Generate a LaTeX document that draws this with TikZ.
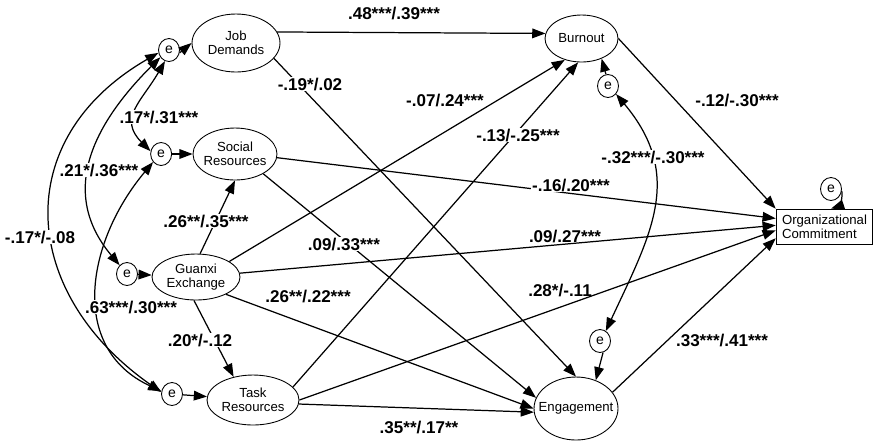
\documentclass[tikz,border=0pt]{standalone}
\usepackage{fontspec}
\setmainfont{Liberation Sans}
\usetikzlibrary{
	shapes.geometric,
	arrows.meta,
	positioning
}

\begin{document}
\begin{tikzpicture}[
				x=0.02cm, y=0.02cm,
				latent/.style={
					ellipse, draw, line width=0.5pt,
					inner xsep=-8pt, inner ysep=-3pt,
					align=center, font=\fontsize{7.5}{8.2}\selectfont
				},
				errnode/.style={
					ellipse, draw, line width=0.5pt, inner sep=0pt,
					minimum width=0.42cm, minimum height=0.46cm,
					font=\fontsize{8}{8}\selectfont
				},
				outcome/.style={
					rectangle, draw, line width=0.5pt,
					minimum width=1.92cm, minimum height=0.68cm,
					align=left, font=\fontsize{7.5}{8.2}\selectfont
				},
				coef/.style={
					font=\fontsize{9.7}{11}\selectfont\bfseries, inner sep=0.5pt
				},
				coefon/.style={
					coef, fill=white
				},
				arrow/.style={-{Triangle[length=7.5pt,width=5.5pt]}, line width=0.7pt},
				covarrow/.style={{Triangle[length=7.5pt,width=5.5pt]}-{Triangle[length=7.5pt,width=5.5pt]}, line width=0.7pt}
				]
				\useasboundingbox (0,0) rectangle (874,-441);
				
				% latent variables
				\node[latent, minimum width=1.76cm, minimum height=1.16cm] (jd) at (236,-43) {Job\\Demands};
				\node[latent, minimum width=1.68cm, minimum height=1.04cm] (soc) at (235,-154) {Social\\Resources};
				\node[latent, minimum width=1.76cm, minimum height=0.92cm] (gx) at (196,-277) {Guanxi\\Exchange};
				\node[latent, minimum width=1.84cm, minimum height=1.0cm] (task) at (253,-400) {Task\\Resources};
				\node[latent, minimum width=1.46cm, minimum height=0.94cm] (burn) at (581.5,-38.5) {Burnout};
				\node[latent, minimum width=1.68cm, minimum height=1.26cm] (eng) at (576,-408.5) {Engagement};
				
				% outcome
				\node[outcome] (oc) at (824.5,-227) {Organizational\\Commitment};
				
				% error terms
				\node[errnode] (ejd) at (169,-50) {e};
				\node[errnode, left=0.41cm of soc] (esoc) {e};
				\node[errnode] (egx) at (127,-274) {e};
				\node[errnode] (etask) at (172,-394) {e};
				\node[errnode] (eburn) at (608,-86) {e};
				\node[errnode] (eeng) at (600,-341) {e};
				\node[errnode] (eoc) at (831,-189) {e};
				
				% errors to variables
				\draw[arrow] (ejd.-15) -- (jd.west);
				\draw[arrow] (esoc) -- (soc);
				\draw[arrow] (egx) -- (gx);
				\draw[arrow] (etask) -- (task);
				\draw[arrow] (eburn.100) -- (burn.-45);
				\draw[arrow] (eeng.-75) -- (eng.55);
				\draw[arrow] (eoc.-10) to[bend left=40] (oc.north -| eoc);
				
				% structural paths
				\draw[arrow] (jd.15) -- (burn.172);
				\draw[arrow] (jd.-22) -- (eng.north);
				\draw[arrow] (soc.-5) -- (oc.170);
				\draw[arrow] (soc.-35) -- (eng.165);
				\draw[arrow] (gx.80) -- (soc.south);
				\draw[arrow] (gx.-95) -- (task.130);
				\draw[arrow] (gx.25) -- (burn.232);
				\draw[arrow] (gx.5) -- (oc.178);
				\draw[arrow] (gx.-30) -- (eng.west);
				\draw[arrow] (task.18) -- (burn.262);
				\draw[arrow] (task.east) -- (oc.184);
				\draw[arrow] (task.-5) -- (eng.185);
				\draw[arrow] (burn.east) -- (oc.north west);
				\draw[arrow] (eng.24) -- (oc.193);
				
				% covariances
				\draw[covarrow] (ejd.-110) to[out=-120, in=135, looseness=1.3] (esoc.165);
				\draw[covarrow] (ejd.-140) to[out=-135, in=130, looseness=1.15] (egx.130);
				\draw[covarrow] (ejd.-165) to[out=-150, in=145, looseness=1.3] (etask.170);
				\draw[covarrow] (esoc.-135) to[out=-130, in=155, looseness=1.15] (etask.165);
				\draw[covarrow] (eburn.-45) to[out=-50, in=65, looseness=1.15] (eeng.60);
				
				% coefficients
				\node[coef] (c48) at (394,-13) {.48***/.39***};
				\node[coefon] (c19) at (310,-84) {-.19*/.02};
				\node[coef] (c07) at (445,-100) {-.07/.24***};
				\node[coefon] (c13) at (518,-135) {-.13/-.25***};
				\node[coefon] (c16) at (571,-185) {-.16/.20***};
				\node[coefon] (c0933) at (344,-244) {.09/.33***};
				\node[coef] (c0927) at (565,-236) {.09/.27***};
				\node[coefon] (c2635) at (206,-221) {.26**/.35***};
				\node[coef] (c2622) at (308,-296) {.26**/.22***};
				\node[coef] (c28) at (560,-290) {.28*/-.11};
				\node[coef] (c35) at (419,-427) {.35**/.17**};
				\node[coef] (c12) at (737,-100) {-.12/-.30***};
				\node[coefon] (c32) at (653,-157) {-.32***/-.30***};
				\node[coef] (c33) at (722,-340) {.33***/.41***};
				\node[coefon] (c17) at (159,-117) {.17*/.31***};
				\node[coefon] (c21) at (99,-170) {.21*/.36***};
				\node[coefon] (c1708) at (40,-237) {-.17*/-.08};
				\node[coefon] (c63) at (131,-307) {.63***/.30***};
				\node[coefon] (c20) at (200,-340) {.20*/-.12};
			\end{tikzpicture}
\end{document}
